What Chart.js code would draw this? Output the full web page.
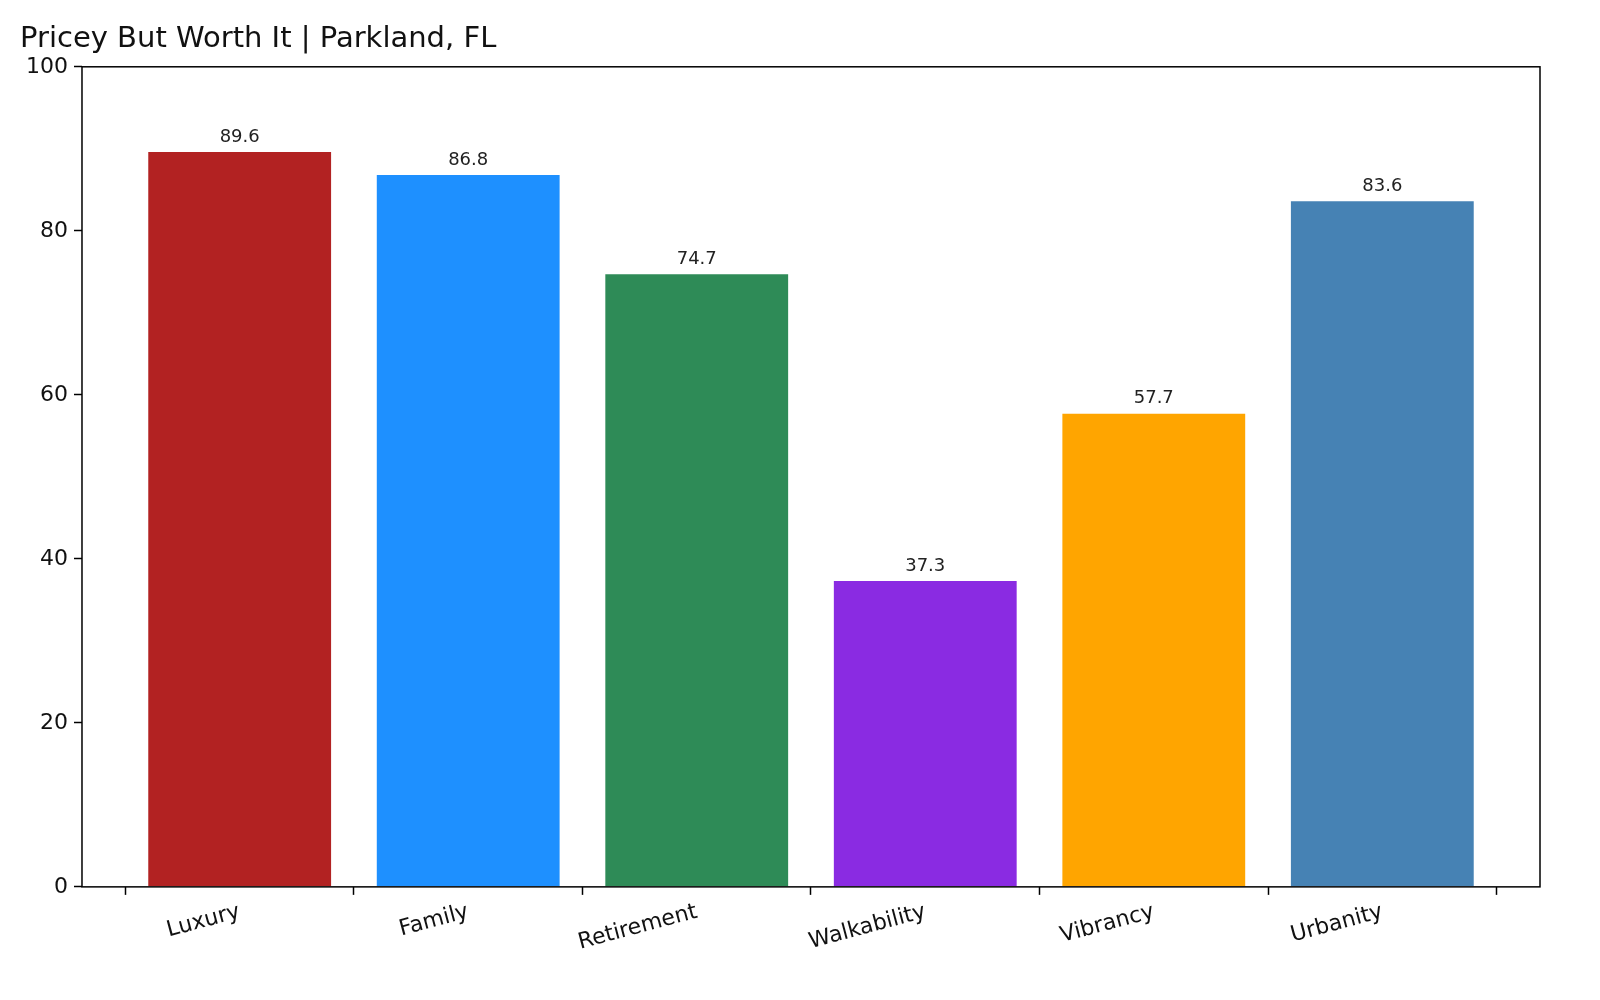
<!DOCTYPE html>
<html>
<head>
<meta charset="utf-8">
<script src="https://cdn.jsdelivr.net/npm/chart.js@4"></script>
<style>
  body { margin: 0; background: #fff; }
  #wrap { width: 1600px; height: 1000px; }
</style>
</head>
<body>
<div id="wrap"><canvas id="chart1"></canvas></div>
<script>
  "use strict";

  var categories = ['Luxury', 'Family', 'Retirement', 'Walkability', 'Vibrancy', 'Urbanity'];
  var scores = [89.6, 86.8, 74.7, 37.3, 57.7, 83.6];
  var barColors = ['#b22222', '#1e90ff', '#2e8b57', '#8a2be2', '#ffa500', '#4682b4'];
  var yTicks = [0, 20, 40, 60, 80, 100];

  // frame around the plot area + value labels above bars
  var extras = {
    id: 'extras',
    afterDatasetsDraw: function (chart) {
      var ctx = chart.ctx, a = chart.chartArea;
      ctx.save();
      ctx.strokeStyle = '#000';
      ctx.lineWidth = 1.5;
      ctx.strokeRect(a.left, a.top, a.right - a.left, a.bottom - a.top);
      ctx.fillStyle = '#222';
      ctx.font = '18px "DejaVu Sans"';
      ctx.textAlign = 'center';
      ctx.textBaseline = 'bottom';
      chart.getDatasetMeta(0).data.forEach(function (bar, i) {
        ctx.fillText(scores[i].toFixed(1), bar.x, bar.y - 6);
      });
      ctx.restore();
    }
  };

  var ctx = document.getElementById('chart1').getContext('2d');
  var myChart = new Chart(ctx, {
    type: 'bar',
    data: {
      datasets: [{
        data: scores.map(function (v, i) { return { x: i, y: v }; }),
        backgroundColor: barColors,
        borderWidth: 0,
        categoryPercentage: 0.8,
        barPercentage: 1
      }]
    },
    options: {
      responsive: true,
      maintainAspectRatio: false,
      animation: false,
      layout: { padding: { left: 20, right: 60, top: 10, bottom: 40 } },
      plugins: {
        legend: { display: false },
        tooltip: { enabled: false },
        title: {
          display: true,
          text: 'Pricey But Worth It | Parkland, FL',
          align: 'start',
          color: '#111',
          font: { family: 'DejaVu Sans', size: 29, weight: 'normal' },
          padding: { top: 12, bottom: 10 }
        }
      },
      scales: {
        x: {
          type: 'linear',
          min: -0.69,
          max: 5.69,
          offset: false,
          afterBuildTicks: function (axis) {
            axis.ticks = categories.map(function (c, i) { return { value: i }; });
          },
          ticks: {
            callback: function (v) { return categories[v]; },
            color: '#111',
            font: { family: 'DejaVu Sans', size: 22 },
            minRotation: 15,
            maxRotation: 15,
            padding: 4
          },
          grid: { display: true, drawOnChartArea: false, color: '#000', tickLength: 8, tickWidth: 1.5 },
          border: { display: false }
        },
        y: {
          min: 0,
          max: 100,
          afterBuildTicks: function (axis) {
            axis.ticks = yTicks.map(function (v) { return { value: v }; });
          },
          ticks: {
            color: '#111',
            font: { family: 'DejaVu Sans', size: 22 },
            padding: 6
          },
          grid: { display: true, drawOnChartArea: false, color: '#000', tickLength: 8, tickWidth: 1.5 },
          border: { display: false }
        }
      }
    },
    plugins: [extras]
  });
</script>
</body>
</html>
